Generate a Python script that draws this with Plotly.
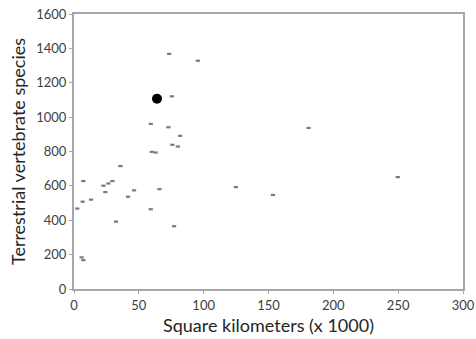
import plotly.graph_objects as go

area_k = [73.4, 95.5, 75.4, 59.2, 72.8, 81.9, 75.9, 80.1, 60.0, 63.0,
          35.8, 7.2, 22.7, 26.5, 29.6, 24.2, 46.3, 65.9, 124.8, 13.1,
          6.7, 41.7, 2.5, 59.2, 32.4, 77.2, 5.9, 7.2, 180.9, 153.4, 249.7]
species = [1368, 1328, 1121, 961, 941, 891, 839, 829, 798, 794,
           715, 628, 601, 614, 628, 564, 574, 581, 593, 520,
           508, 537, 468, 464, 392, 365, 184, 168, 937, 547, 651]

highlight_x = [64]
highlight_y = [1107]

x_ticks = [0, 50, 100, 150, 200, 250, 300]
y_ticks = [0, 200, 400, 600, 800, 1000, 1200, 1400, 1600]

FONT = "Lato, Open Sans, sans-serif"

fig = go.Figure()
fig.add_trace(go.Scatter(
    x=area_k, y=species, mode="markers",
    marker=dict(symbol="line-ew", size=3, color="#7a7a7a",
                line=dict(width=2.2, color="#7a7a7a")),
    showlegend=False, hoverinfo="x+y"))
fig.add_trace(go.Scatter(
    x=highlight_x, y=highlight_y, mode="markers",
    marker=dict(symbol="circle", size=10, color="#000000"),
    showlegend=False))

axis_common = dict(showgrid=False, zeroline=False, showline=True, mirror=True,
                   linecolor="#a6a6a6", linewidth=2, ticks="outside",
                   ticklen=3, tickcolor="#a6a6a6", automargin=False,
                   ticklabeloverflow="allow",
                   tickfont=dict(family=FONT, size=13, color="#404040"))

fig.update_layout(
    width=476, height=339,
    margin=dict(l=74, r=13, t=14, b=50),
    paper_bgcolor="white", plot_bgcolor="white",
    xaxis=dict(range=[0, 300], tickvals=x_ticks,
               title=dict(text="Square kilometers (x 1000)", standoff=8,
                          font=dict(family=FONT, size=18, color="#262626")),
               **axis_common),
    yaxis=dict(range=[0, 1600], tickvals=y_ticks,
               title=dict(text="Terrestrial vertebrate species", standoff=6,
                          font=dict(family=FONT, size=18, color="#262626")),
               **axis_common),
)

# remove the page's default body margin so the figure fills the window exactly
fig.write_html("out.html",
               config={"displayModeBar": False},
               post_script="document.body.style.margin='0';"
                           "document.body.style.overflow='hidden';")
